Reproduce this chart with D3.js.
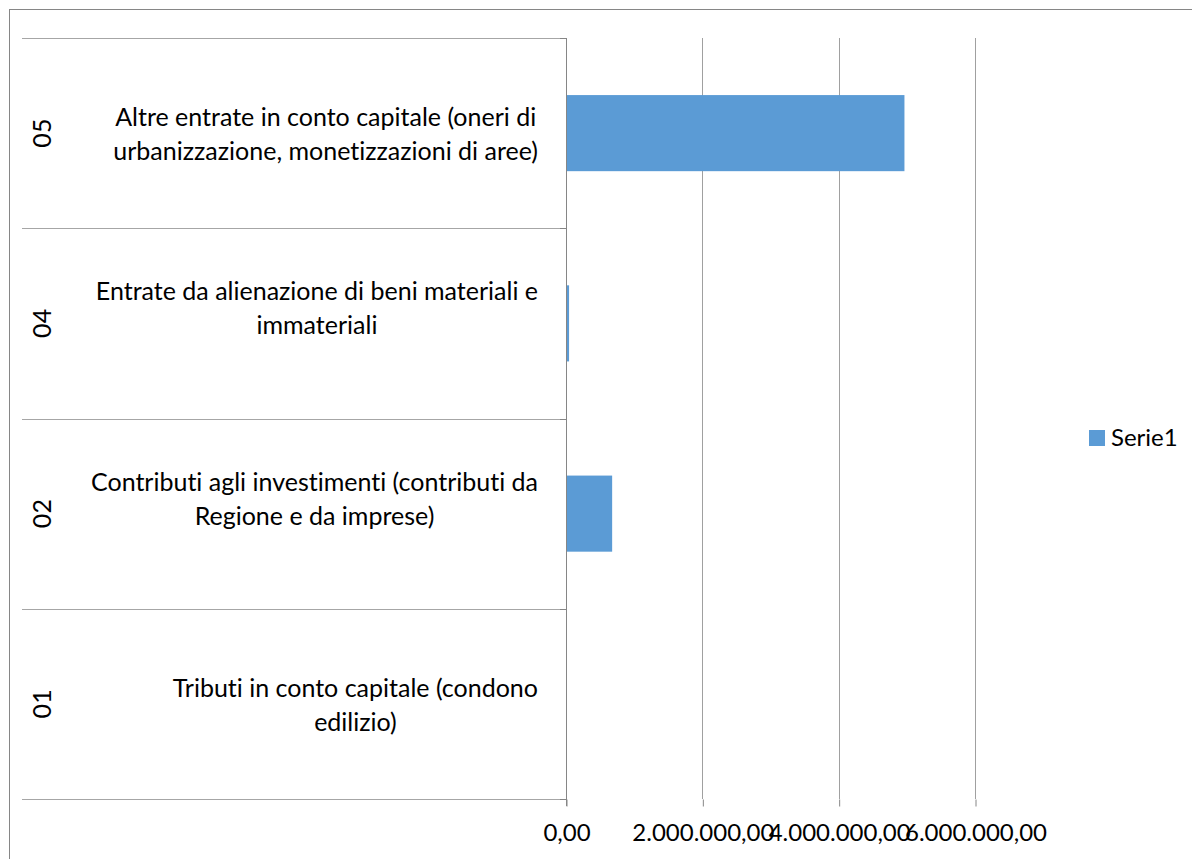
<!DOCTYPE html>
<html>
<head>
<meta charset="utf-8">
<script src="https://cdn.jsdelivr.net/npm/d3@7"></script>
<style>
  html, body { margin: 0; padding: 0; background: #fff; }
  svg { display: block; }
  text { font-family: Lato, "Open Sans", sans-serif; fill: #000; font-variant-ligatures: none; }
</style>
</head>
<body>
<svg id="chart" width="1192" height="859"></svg>
<script>
// ---- data ----
const codes = ["01", "02", "04", "05"];
const labels = [
  ["Tributi in conto capitale (condono", "edilizio)"],
  ["Contributi agli investimenti (contributi da", "Regione e da imprese)"],
  ["Entrate da alienazione di beni materiali e", "immateriali"],
  ["Altre entrate in conto capitale (oneri di", "urbanizzazione, monetizzazioni di aree)"]
];
const values = [0, 677000, 45000, 4965000];
const xTicks = [0, 2000000, 4000000, 6000000];
const xTickLabels = ["0,00", "2.000.000,00", "4.000.000,00", "6.000.000,00"];
const seriesName = "Serie1";

// ---- layout ----
const svg = d3.select("#chart");
const W = 1192, H = 859;
const plot = { left: 566, right: 975, top: 38, bottom: 799 };
const catLeft = 22;
const color = "#5B9BD5";
const catFont = 25;
const tickFont = 24;
const labelRight = 538;
const labelShift = { "01": 1, "02": -14, "04": -15, "05": 1 };

svg.append("rect")
  .attr("x", 9.5).attr("y", 9.5)
  .attr("width", W).attr("height", H)
  .attr("fill", "#fff").attr("stroke", "#868686").attr("stroke-width", 1);

const x = d3.scaleLinear().domain([0, 6000000]).range([plot.left, plot.right]);
const y = d3.scaleBand()
  .domain(codes.slice().reverse())
  .range([plot.top, plot.bottom])
  .padding(0);

const data = codes.map((c, i) => ({ code: c, label: labels[i], value: values[i] }));

// vertical gridlines
svg.append("g")
  .selectAll("line")
  .data(xTicks.slice(1))
  .join("line")
  .attr("x1", d => Math.round(x(d)) + 0.5).attr("x2", d => Math.round(x(d)) + 0.5)
  .attr("y1", plot.top).attr("y2", plot.bottom)
  .attr("stroke", "#a0a0a0").attr("stroke-width", 1);

// category separator lines
const seps = y.domain().map(d => y(d)).concat([plot.bottom]);
svg.append("g")
  .selectAll("line")
  .data(seps)
  .join("line")
  .attr("x1", catLeft).attr("x2", plot.left)
  .attr("y1", d => Math.round(d) + 0.5).attr("y2", d => Math.round(d) + 0.5)
  .attr("stroke", "#a6a6a6").attr("stroke-width", 1);
svg.append("g")
  .selectAll("line")
  .data(seps)
  .join("line")
  .attr("x1", plot.left - 6).attr("x2", plot.left)
  .attr("y1", d => Math.round(d) + 0.5).attr("y2", d => Math.round(d) + 0.5)
  .attr("stroke", "#868686").attr("stroke-width", 1);

// bars
svg.append("g")
  .selectAll("rect")
  .data(data)
  .join("rect")
  .attr("x", x(0))
  .attr("y", d => y(d.code) + y.bandwidth() * 0.3)
  .attr("width", d => x(d.value) - x(0))
  .attr("height", y.bandwidth() * 0.4)
  .attr("fill", color);

// x axis
const xAxis = d3.axisBottom(x)
  .tickValues(xTicks)
  .tickFormat((d, i) => xTickLabels[i])
  .tickSize(7)
  .tickSizeOuter(0);
const gx = svg.append("g")
  .attr("transform", `translate(0.5,${plot.bottom + 0.5})`)
  .call(xAxis);
gx.select(".domain").remove();
gx.selectAll(".tick line").attr("stroke", "#868686");
gx.selectAll(".tick text")
  .attr("y", 34)
  .attr("dy", "0.32em")
  .style("font-family", "Lato, 'Open Sans', sans-serif")
  .style("font-size", tickFont + "px")
  .attr("fill", "#000");

// vertical axis line
svg.append("line")
  .attr("x1", plot.left + 0.5).attr("x2", plot.left + 0.5)
  .attr("y1", plot.top).attr("y2", plot.bottom + 7)
  .attr("stroke", "#868686").attr("stroke-width", 1);

// category labels: each block centred on its own widest line, block right-aligned
const lineGap = 34;
const gl = svg.append("g");
data.forEach(d => {
  const cy = y(d.code) + y.bandwidth() / 2;
  const n = d.label.length;
  const texts = d.label.map((t, j) =>
    gl.append("text")
      .attr("y", cy + labelShift[d.code] + (j - (n - 1) / 2) * lineGap)
      .attr("dy", "0.35em")
      .attr("text-anchor", "middle")
      .style("font-size", catFont + "px")
      .text(t));
  const maxW = d3.max(texts, s => s.node().getComputedTextLength());
  texts.forEach(s => s.attr("x", labelRight - maxW / 2));
  gl.append("text")
    .attr("transform", `translate(42,${cy}) rotate(-90)`)
    .attr("dy", "0.35em")
    .attr("text-anchor", "middle")
    .style("font-size", catFont + "px")
    .text(d.code);
});

// legend
const lg = svg.append("g").attr("transform", "translate(1089,430)");
lg.append("rect").attr("width", 16).attr("height", 16).attr("fill", color);
lg.append("text").attr("x", 22).attr("y", 8).attr("dy", "0.35em")
  .style("font-size", tickFont + "px").text(seriesName);
</script>
</body>
</html>
